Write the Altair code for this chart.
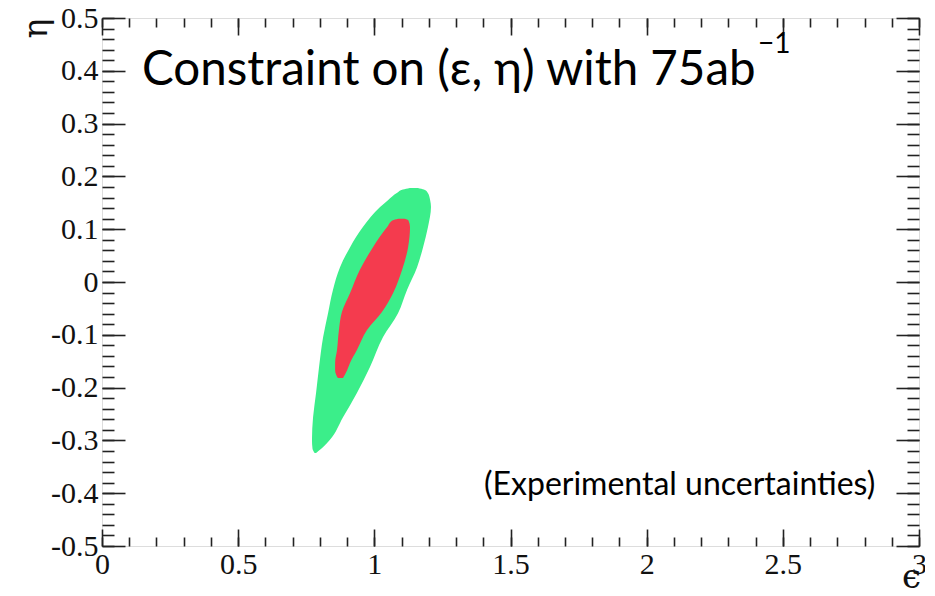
import altair as alt
import pandas as pd

# ---------------- data ----------------
green_eta   = [0.178, 0.175, 0.169, 0.155, 0.142, 0.104, 0.066, 0.028, -0.015, -0.059, -0.104, -0.161, -0.210, -0.256, -0.299, -0.316, -0.324]
green_left  = [1.130, 1.105, 1.084, 1.050, 1.021, 0.958, 0.911, 0.874, 0.848, 0.830, 0.812, 0.797, 0.786, 0.775, 0.771, 0.773, 0.781]
green_right = [1.160, 1.182, 1.196, 1.205, 1.208, 1.197, 1.179, 1.157, 1.120, 1.087, 1.032, 0.984, 0.936, 0.885, 0.837, 0.805, 0.786]

red_eta   = [0.120, 0.117, 0.104, 0.066, 0.023, -0.021, -0.057, -0.091, -0.129, -0.153, -0.167, -0.182]
red_left  = [1.088, 1.068, 1.047, 0.995, 0.947, 0.911, 0.881, 0.870, 0.863, 0.856, 0.856, 0.866]
red_right = [1.112, 1.125, 1.131, 1.124, 1.102, 1.069, 1.028, 0.973, 0.936, 0.911, 0.900, 0.885]

x_major = [0, 0.5, 1, 1.5, 2, 2.5, 3]
x_minor = [round(i * 0.1, 1) for i in range(31)]
y_major = [-0.5, -0.4, -0.3, -0.2, -0.1, 0, 0.1, 0.2, 0.3, 0.4, 0.5]
y_minor = [round(-0.5 + i * 0.02, 2) for i in range(51)]

main_title = "Constraint on (ε, η) with 75ab"
main_sup = "−1"
note_text = "(Experimental uncertainties)"
x_title = "ϵ"
y_title = "η"

# ---------------- styling ----------------
W, H = 817, 528
GREEN = "#3BEE8A"
RED = "#F43B4E"
TICK = "#222222"
SERIF = "Liberation Serif"
SANS = "Lato, 'Noto Sans'"

green_df = pd.DataFrame({"eta": green_eta, "left": green_left, "right": green_right})
red_df = pd.DataFrame({"eta": red_eta, "left": red_left, "right": red_right})

xscale = alt.Scale(domain=[0, 3], nice=False, zero=False)
yscale = alt.Scale(domain=[-0.5, 0.5], nice=False, zero=False)


def tick_axis(orient, offset, values, size):
    return alt.Axis(orient=orient, offset=offset, values=values, tickSize=size,
                    tickColor=TICK, tickWidth=1.6, labels=False, domain=False,
                    grid=False, title=None)


label_x_axis = alt.Axis(orient="bottom", values=x_major, labelExpr="'' + datum.value",
                        ticks=False, domain=False, grid=False, labelFont=SERIF,
                        labelFontSize=30, labelColor="#111111", labelPadding=3,
                        labelFlush=False, labelOverlap=False,
                        title=x_title, titleFont="DejaVu Serif", titleFontSize=34,
                        titleFontWeight="normal", titleColor="#111111",
                        titleX=809, titleY=31, titleAlign="center",
                        titleBaseline="middle", titleAngle=0)

label_y_axis = alt.Axis(orient="left", values=y_major, labelExpr="'' + datum.value",
                        ticks=False, domain=False, grid=False, labelFont=SERIF,
                        labelFontSize=30, labelColor="#111111", labelPadding=4,
                        labelFlush=False, labelOverlap=False,
                        title=y_title, titleFont="DejaVu Serif", titleFontSize=33,
                        titleFontWeight="normal", titleColor="#111111",
                        titleX=-66, titleY=10, titleAlign="center",
                        titleBaseline="middle", titleAngle=270)

green = alt.Chart(green_df).mark_area(orient="horizontal", interpolate="monotone",
                                      color=GREEN).encode(
    y=alt.Y("eta:Q", scale=yscale, axis=label_y_axis),
    x=alt.X("left:Q", scale=xscale, axis=label_x_axis),
    x2="right:Q",
)

red = alt.Chart(red_df).mark_area(orient="horizontal", interpolate="monotone",
                                  color=RED).encode(
    y=alt.Y("eta:Q", scale=yscale, axis=tick_axis("right", -W, y_major, 23)),
    x=alt.X("left:Q", scale=xscale, axis=tick_axis("top", -H, x_major, 17)),
    x2="right:Q",
)


def ghost(xaxis, yaxis):
    return alt.Chart(green_df).mark_point(opacity=0).encode(
        y=alt.Y("eta:Q", scale=yscale, axis=yaxis),
        x=alt.X("left:Q", scale=xscale, axis=xaxis),
    )


g1 = ghost(tick_axis("top", -H, x_minor, 9), tick_axis("right", -W, y_minor, 12))
g2 = ghost(tick_axis("bottom", -H, x_major, 17), tick_axis("left", -W, y_major, 23))
g3 = ghost(tick_axis("bottom", -H, x_minor, 9), tick_axis("left", -W, y_minor, 12))

title_layer = alt.Chart(pd.DataFrame({"t": [main_title]})).mark_text(
    align="left", baseline="alphabetic", font=SANS, fontSize=47.5, color="black"
).encode(text="t:N", x=alt.value(40), y=alt.value(67))

sup_layer = alt.Chart(pd.DataFrame({"t": [main_sup]})).mark_text(
    align="left", baseline="alphabetic", font=SANS, fontSize=28, color="black"
).encode(text="t:N", x=alt.value(656), y=alt.value(35))

note_layer = alt.Chart(pd.DataFrame({"t": [note_text]})).mark_text(
    align="left", baseline="alphabetic", font=SANS, fontSize=32, color="black"
).encode(text="t:N", x=alt.value(382), y=alt.value(477))

chart = alt.layer(green, red, g1, g2, g3, title_layer, sup_layer, note_layer).properties(
    width=W, height=H,
    autosize=alt.AutoSizeParams(type="none"),
    padding={"left": 94, "top": 10, "right": 6, "bottom": 42},
).configure_view(stroke="black", strokeWidth=2).configure(background="white")

chart.save("out.html", embed_options={"renderer": "svg", "actions": False})
